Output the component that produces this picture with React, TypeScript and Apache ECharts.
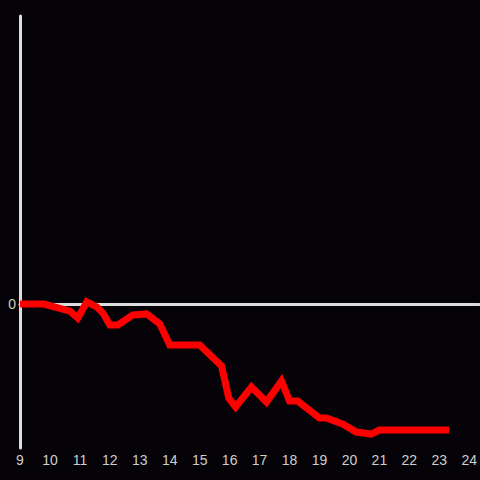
import React, { useEffect, useRef } from "react";
import * as echarts from "echarts";

const xValues = [9.0, 9.8, 10.67, 10.93, 11.23, 11.57, 11.77, 12.0, 12.27, 12.77, 13.23, 13.67, 14.0, 15.0, 15.73, 15.97, 16.2, 16.73, 17.23, 17.73, 18.0, 18.27, 19.0, 19.23, 19.77, 20.23, 20.73, 21.0, 23.33];
const yValues = [0, 0, -4.9, -9.7, 1.4, -2.1, -6.3, -14.6, -14.6, -7.6, -6.9, -13.9, -28.5, -28.5, -43.1, -65.3, -71.5, -57.6, -68.1, -53.5, -67.4, -67.4, -79.2, -79.2, -83.3, -88.9, -90.3, -87.5, -87.5];
const xTickLabels = ["9", "10", "11", "12", "13", "14", "15", "16", "17", "18", "19", "20", "21", "22", "23", "24"];
const yTickLabels = ["0"];

export default function App() {
  const ref = useRef<HTMLDivElement>(null);
  useEffect(() => {
    if (!ref.current) return;
    const chart = echarts.init(ref.current, null, { renderer: "svg" });
    const data = xValues.map((x, i) => [x, yValues[i]]);
    const axisColor = "#dddddd";
    const labelColor = "#cfcfcf";
    chart.setOption({
      animation: false,
      backgroundColor: "#050307",
      grid: { left: 20, right: 0, top: 16, bottom: 32 },
      xAxis: [
        {
          type: "value",
          min: 9,
          max: 24.333,
          interval: 1,
          axisLine: { show: true, onZero: true, lineStyle: { color: axisColor, width: 3 } },
          axisTick: { show: false },
          axisLabel: { show: false },
          splitLine: { show: false },
        },
        {
          type: "value",
          position: "bottom",
          min: 9,
          max: 24.333,
          interval: 1,
          axisLine: { show: false, onZero: false },
          axisTick: { show: false },
          splitLine: { show: false },
          axisLabel: {
            show: true,
            showMaxLabel: false,
            color: labelColor,
            fontSize: 14,
            fontFamily: "Liberation Sans, Arial, sans-serif",
            margin: 5,
            formatter: (v: number) => (xTickLabels.includes(String(v)) ? String(v) : ""),
          },
        },
      ],
      yAxis: {
        type: "value",
        min: -100,
        max: 200,
        interval: 100,
        axisLine: { show: true, onZero: false, lineStyle: { color: axisColor, width: 3 } },
        axisTick: { show: false },
        splitLine: { show: false },
        axisLabel: {
          color: labelColor,
          fontSize: 14,
          fontFamily: "Liberation Sans, Arial, sans-serif",
          margin: 4,
          formatter: (v: number) => (yTickLabels.includes(String(v)) ? String(v) : ""),
        },
      },
      series: [
        {
          type: "line",
          xAxisIndex: 0,
          data,
          showSymbol: false,
          symbol: "none",
          lineStyle: { color: "#ff0000", width: 7, cap: "butt", join: "miter" },
        },
      ],
    });
    return () => chart.dispose();
  }, []);
  return <div ref={ref} style={{ width: 480, height: 480, position: "absolute", left: 0, top: 0 }} />;
}
